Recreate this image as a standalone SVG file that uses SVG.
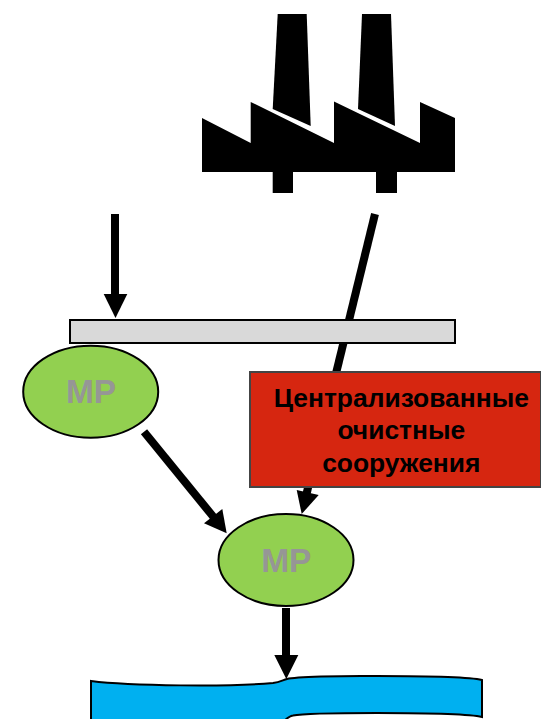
<svg xmlns="http://www.w3.org/2000/svg" width="541" height="719" viewBox="0 0 541 719">
<defs><style>
.shaft{stroke:#000;stroke-width:8;fill:none}
.head{fill:#000}
.mp{fill:#92D050;stroke:#000;stroke-width:2}
.mpt{font:bold 33.5px "Liberation Sans",Arial,sans-serif;fill:#969696;text-anchor:middle}
.rt{font:bold 26.4px "Liberation Sans",Arial,sans-serif;fill:#000;text-anchor:middle}
</style></defs>
<rect width="541" height="719" fill="#fff"/>
<g id="factory">
<path d="M277.7 14H306.7L310.7 126L272.7 109Z" fill="#000"/>
<path d="M362 14H391L395 126L358 109Z" fill="#000"/>
<path d="M202 118L250.7 143V102L334 143V101.5L420 143V102L455 118V172H397V193H376V172H293V193H272.7V172H202Z" fill="#000"/>
</g>
<g id="connectors-behind">
<path class="shaft" d="M375 214L306 496"/><path class="head" d="M296.7 490L318.7 495L301.7 514Z"/>
</g>
<g id="clarifier"><rect x="70" y="320" width="385" height="23" fill="#D9D9D9" stroke="#000" stroke-width="2"/></g>
<g id="treatment">
<rect x="250" y="372" width="291" height="115" fill="#D62610" stroke="#444" stroke-width="2"/>
<text class="rt" x="401.3" y="407">Централизованные</text>
<text class="rt" x="401.3" y="439">очистные</text>
<text class="rt" x="401.3" y="471.5">сооружения</text>
</g>
<g id="mp1"><ellipse class="mp" cx="90.7" cy="391.7" rx="67.5" ry="46"/><text class="mpt" x="91" y="402.7">МР</text></g>
<g id="mp2"><ellipse class="mp" cx="286" cy="560" rx="67.5" ry="46"/><text class="mpt" x="286.3" y="571.7">МР</text></g>
<g id="water"><path d="M91 681C130 686 230 687 273 683C280 682 283 680 287 679C295 677 340 675.5 377 676C420 676 470 677 482 680V717C470 714 420 713 377 713C340 713 300 714 293 715.5C290 716 287 718 283 722V726H91Z" fill="#00B0F0" stroke="#000" stroke-width="2"/></g>
<g id="connectors">
<path class="shaft" d="M115 214V296"/><path class="head" d="M103.7 294H127.3L115.5 318Z"/>
<path class="shaft" d="M144 431.7L213.5 517"/><path class="head" d="M204 523.3L222.3 509L226.7 533.3Z"/>
<path class="shaft" d="M286 608V657"/><path class="head" d="M274.3 655H298.3L286.3 679Z"/>
</g>
</svg>
